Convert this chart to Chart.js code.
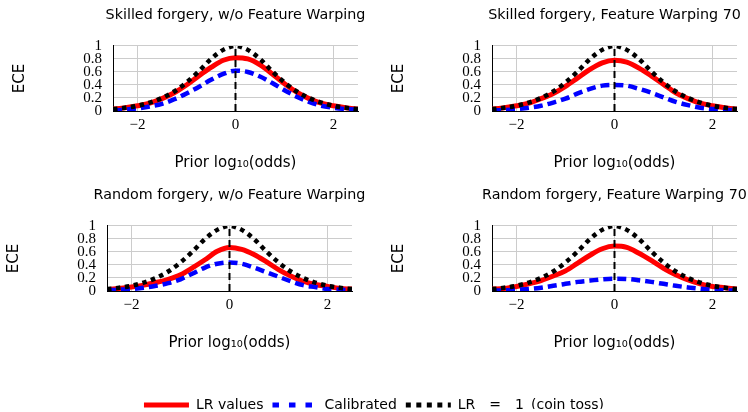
<!DOCTYPE html>
<html>
<head>
<meta charset="utf-8">
<script src="https://cdn.jsdelivr.net/npm/chart.js@4.4.1/dist/chart.umd.min.js"></script>
<style>
  body { margin: 0; background: #fff; }
  #fig { position: relative; width: 748px; height: 412px; overflow: hidden; }
  canvas { position: absolute; }
</style>
</head>
<body>
<div id="fig">
  <canvas id="skilledPlain" height="180" style="left:0;top:0"></canvas>
  <canvas id="skilledWarp" height="180" style="left:374px;top:0"></canvas>
  <canvas id="randomPlain" height="180" style="left:0;top:180px"></canvas>
  <canvas id="randomWarp" height="180" style="left:374px;top:180px"></canvas>
  <canvas id="legendChart" width="748" height="40" style="left:0;top:389px"></canvas>
</div>
<script>
// prior log10(odds) sampled every 0.25
const priorLogOdds = [-2.5, -2.25, -2, -1.75, -1.5, -1.25, -1, -0.75, -0.5, -0.25, 0,
                      0.25, 0.5, 0.75, 1, 1.25, 1.5, 1.75, 2, 2.25, 2.5];

// LR = 1 (coin toss) reference, same on every panel
const coinToss = [0.03, 0.05, 0.08, 0.13, 0.20, 0.30, 0.44, 0.61, 0.80, 0.94, 1.00,
                  0.94, 0.80, 0.61, 0.44, 0.30, 0.20, 0.13, 0.08, 0.05, 0.03];

// Skilled forgery, w/o Feature Warping
const skilledPlainLR = [0.03, 0.05, 0.08, 0.12, 0.19, 0.28, 0.40, 0.54, 0.67, 0.78, 0.82,
                        0.80, 0.71, 0.57, 0.42, 0.29, 0.19, 0.12, 0.08, 0.05, 0.03];
const skilledPlainCal = [0.01, 0.02, 0.04, 0.07, 0.11, 0.18, 0.27, 0.37, 0.48, 0.57, 0.62,
                         0.60, 0.53, 0.43, 0.32, 0.22, 0.14, 0.08, 0.05, 0.03, 0.02];

// Skilled forgery, Feature Warping 70
const skilledWarpLR = [0.03, 0.05, 0.08, 0.12, 0.19, 0.27, 0.38, 0.51, 0.64, 0.74, 0.78,
                       0.75, 0.66, 0.54, 0.41, 0.28, 0.19, 0.12, 0.08, 0.05, 0.03];
const skilledWarpCal = [0.01, 0.015, 0.03, 0.05, 0.08, 0.13, 0.19, 0.27, 0.34, 0.39, 0.40,
                        0.39, 0.34, 0.28, 0.21, 0.14, 0.09, 0.05, 0.03, 0.02, 0.01];

// Random forgery, w/o Feature Warping
const randomPlainLR = [0.02, 0.04, 0.06, 0.09, 0.13, 0.18, 0.25, 0.36, 0.48, 0.61, 0.67,
                       0.64, 0.56, 0.45, 0.33, 0.23, 0.15, 0.10, 0.07, 0.04, 0.03];
const randomPlainCal = [0.01, 0.02, 0.03, 0.05, 0.08, 0.12, 0.18, 0.27, 0.36, 0.42, 0.44,
                        0.42, 0.36, 0.29, 0.22, 0.15, 0.09, 0.06, 0.03, 0.02, 0.01];

// Random forgery, Feature Warping 70
const randomWarpLR = [0.03, 0.04, 0.07, 0.11, 0.16, 0.23, 0.31, 0.43, 0.55, 0.65, 0.69,
                      0.67, 0.58, 0.47, 0.35, 0.25, 0.17, 0.11, 0.07, 0.05, 0.03];
const randomWarpCal = [0.005, 0.01, 0.02, 0.03, 0.05, 0.08, 0.11, 0.14, 0.16, 0.18, 0.19,
                       0.185, 0.165, 0.14, 0.11, 0.08, 0.055, 0.035, 0.02, 0.01, 0.005];

// dashed marker at the even prior
const markerX = [0, 0];
const markerY = [0, 1];

const xTicks = [-2, 0, 2];
const xTickLabels = ['\u22122', '0', '2'];
const yTicks = [0, 0.2, 0.4, 0.6, 0.8, 1];
const yTickLabels = ['0', '0.2', '0.4', '0.6', '0.8', '1'];

const legendLabels = ['LR values', 'Calibrated', 'LR\u2003=\u20031\u2002(coin toss)'];

const sansFont = '"DejaVu Sans", sans-serif';
const serifFont = '"Liberation Serif", "DejaVu Serif", serif';

const plotWidth = 245;

function toPoints(xs, ys) {
    return xs.map((x, i) => ({ x: x, y: ys[i] }));
}

// canvas is symmetric around the plot (empty right axis) so the title centres over it
function makePanel(id, title, lrValues, calValues, chartLeft) {
    const canvas = document.getElementById(id);
    canvas.width = 2 * chartLeft + plotWidth;
    const ctx = canvas.getContext('2d');
    return new Chart(ctx, {
        type: 'line',
        data: {
            // later datasets are drawn first
            datasets: [
                {
                    data: toPoints(markerX, markerY),
                    borderColor: '#000',
                    borderWidth: 2,
                    borderDash: [7, 4],
                    tension: 0,
                },
                {
                    data: toPoints(priorLogOdds, coinToss),
                    borderColor: '#000',
                    borderWidth: 4.5,
                    borderDash: [4.5, 4.5],
                    borderCapStyle: 'butt',
                    cubicInterpolationMode: 'monotone',
                },
                {
                    data: toPoints(priorLogOdds, calValues),
                    borderColor: '#0000ff',
                    borderWidth: 4.5,
                    borderDash: [9, 5],
                    borderCapStyle: 'butt',
                    cubicInterpolationMode: 'monotone',
                },
                {
                    data: toPoints(priorLogOdds, lrValues),
                    borderColor: '#ff0000',
                    borderWidth: 5,
                    cubicInterpolationMode: 'monotone',
                },
            ],
        },
        options: {
            responsive: false,
            animation: false,
            events: [],
            elements: { point: { radius: 0 } },
            layout: { padding: 0 },
            plugins: {
                legend: { display: false },
                tooltip: { enabled: false },
                title: {
                    display: true,
                    text: title,
                    color: '#000',
                    font: { family: sansFont, size: 14.3, weight: 400 },
                    padding: { top: 6.9, bottom: 21.9 },
                },
            },
            scales: {
                x: {
                    type: 'linear',
                    min: -2.5,
                    max: 2.5,
                    afterBuildTicks: s => { s.ticks = xTicks.map(v => ({ value: v })); },
                    afterFit: s => { s.height = 69; },
                    grid: { color: '#cccccc', lineWidth: 1, drawTicks: false },
                    border: { color: '#000', width: 1 },
                    ticks: {
                        autoSkip: false,
                        maxRotation: 0,
                        padding: 5,
                        color: '#000',
                        font: { family: serifFont, size: 15 },
                        callback: (v) => xTickLabels[xTicks.indexOf(v)],
                    },
                    title: {
                        display: true,
                        text: 'Prior log\u2081\u2080(odds)',
                        color: '#000',
                        font: { family: sansFont, size: 15 },
                        padding: { top: 0, bottom: 8 },
                    },
                },
                y: {
                    min: 0,
                    max: 1,
                    afterBuildTicks: s => { s.ticks = yTicks.map(v => ({ value: v })); },
                    afterFit: s => { s.width = chartLeft; },
                    grid: { color: '#cccccc', lineWidth: 1, drawTicks: false },
                    border: { color: '#000', width: 1 },
                    ticks: {
                        autoSkip: false,
                        padding: 11,
                        color: '#000',
                        font: { family: serifFont, size: 15 },
                        callback: (v) => yTickLabels[yTicks.indexOf(v)],
                    },
                    title: {
                        display: true,
                        text: 'ECE',
                        color: '#000',
                        font: { family: sansFont, size: 15 },
                        padding: { top: chartLeft - 102, bottom: 0 },
                    },
                },
                // empty spacer on the right, nothing drawn
                spacer: {
                    type: 'linear',
                    position: 'right',
                    display: true,
                    afterFit: s => { s.width = chartLeft; },
                    grid: { display: false, drawOnChartArea: false },
                    border: { display: false },
                    ticks: { display: false },
                },
            },
        },
    });
}

makePanel('skilledPlain', 'Skilled forgery, w/o Feature Warping', skilledPlainLR, skilledPlainCal, 113);
makePanel('skilledWarp', 'Skilled forgery, Feature Warping 70', skilledWarpLR, skilledWarpCal, 118);
makePanel('randomPlain', 'Random forgery, w/o Feature Warping', randomPlainLR, randomPlainCal, 107);
makePanel('randomWarp', 'Random forgery, Feature Warping 70', randomWarpLR, randomWarpCal, 118);

// shared legend underneath the four panels
const legendStyles = [
    { strokeStyle: '#ff0000', lineWidth: 5, lineDash: [] },
    { strokeStyle: '#0000ff', lineWidth: 5, lineDash: [6.5, 10] },
    { strokeStyle: '#000000', lineWidth: 5, lineDash: [5, 5.5] },
];

new Chart(document.getElementById('legendChart').getContext('2d'), {
    type: 'line',
    data: {
        datasets: legendLabels.map(label => ({ label: label, data: [] })),
    },
    options: {
        responsive: false,
        animation: false,
        events: [],
        scales: { x: { display: false }, y: { display: false } },
        plugins: {
            tooltip: { enabled: false },
            legend: {
                display: true,
                position: 'top',
                labels: {
                    usePointStyle: true,
                    pointStyleWidth: 45,
                    padding: 9,
                    color: '#000',
                    font: { family: sansFont, size: 14, lineHeight: 1 },
                    generateLabels: () => legendLabels.map((text, i) => ({
                        text: text,
                        fillStyle: 'rgba(0,0,0,0)',
                        strokeStyle: legendStyles[i].strokeStyle,
                        lineWidth: legendStyles[i].lineWidth,
                        lineDash: legendStyles[i].lineDash,
                        lineCap: 'butt',
                        pointStyle: 'line',
                        hidden: false,
                        datasetIndex: i,
                    })),
                },
            },
        },
    },
});
</script>
</body>
</html>
